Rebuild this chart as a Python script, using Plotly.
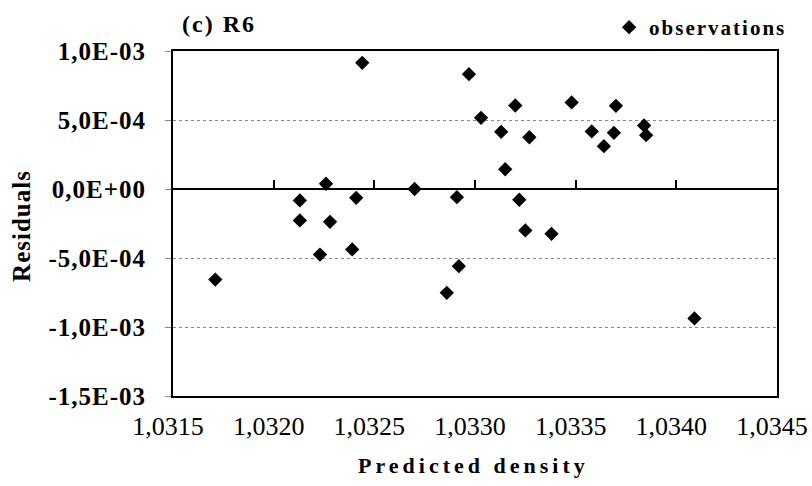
import plotly.graph_objects as go

# Residuals vs. predicted density, sample set R6
predicted_density = [
    1.03171, 1.03213, 1.03213, 1.03226, 1.03228, 1.03223, 1.03239, 1.03241,
    1.03244, 1.03270, 1.03286, 1.03291, 1.03292, 1.03297, 1.03303, 1.03313,
    1.03315, 1.03320, 1.03322, 1.03325, 1.03327, 1.03338, 1.03348, 1.03358,
    1.03364, 1.03369, 1.03370, 1.03384, 1.03385, 1.03409,
]
residuals = [
    -6.56e-4, -0.83e-4, -2.28e-4, 0.38e-4, -2.38e-4, -4.75e-4, -4.38e-4, -0.64e-4,
    9.14e-4, 0.0, -7.52e-4, -0.59e-4, -5.59e-4, 8.32e-4, 5.16e-4, 4.14e-4,
    1.43e-4, 6.05e-4, -0.78e-4, -3.00e-4, 3.75e-4, -3.25e-4, 6.27e-4, 4.17e-4,
    3.10e-4, 4.07e-4, 6.03e-4, 4.60e-4, 3.90e-4, -9.38e-4,
]

x_ticks = [1.0315, 1.0320, 1.0325, 1.0330, 1.0335, 1.0340, 1.0345]
x_tick_labels = ["1,0315", "1,0320", "1,0325", "1,0330", "1,0335", "1,0340", "1,0345"]
y_ticks = [1.0e-3, 5.0e-4, 0.0, -5.0e-4, -1.0e-3, -1.5e-3]
y_tick_labels = ["1,0E-03", "5,0E-04", "0,0E+00", "-5,0E-04", "-1,0E-03", "-1,5E-03"]

x_range = [1.0315, 1.0345]
y_range = [-1.5e-3, 1.0e-3]

SERIF = "Liberation Serif"

fig = go.Figure()
fig.add_trace(go.Scatter(
    x=predicted_density,
    y=residuals,
    mode="markers",
    name="<b><span style='letter-spacing:2px'>observations</span></b>",
    marker=dict(symbol="diamond", size=11, color="black",
                line=dict(width=0)),
))
# same points on the overlaid axis that draws the zero line (kept invisible)
fig.add_trace(go.Scatter(
    x=predicted_density,
    y=residuals,
    xaxis="x2",
    mode="markers",
    marker=dict(size=1, opacity=0),
    hoverinfo="skip",
    showlegend=False,
))

fig.update_layout(
    width=812,
    height=486,
    margin=dict(l=173, r=35, t=51, b=90, autoexpand=False),
    paper_bgcolor="white",
    plot_bgcolor="white",
    font=dict(family=SERIF, color="black"),
    showlegend=True,
    legend=dict(
        x=1.025, xanchor="right", y=1.068, yanchor="middle",
        font=dict(family=SERIF, size=21, color="black"),
        bgcolor="rgba(0,0,0,0)", borderwidth=0,
        itemwidth=30,
    ),
    xaxis=dict(
        range=x_range,
        tickmode="array", tickvals=x_ticks, ticktext=x_tick_labels,
        tickfont=dict(family=SERIF, size=26, color="black"),
        ticks="", ticklabelstandoff=6, ticklabelshift=-5,
        ticklabeloverflow="allow",
        showline=True, mirror=True, linecolor="black", linewidth=2,
        showgrid=False, zeroline=False,
    ),
    # zero line of the residual axis, carrying the upward tick marks
    xaxis2=dict(
        range=x_range, overlaying="x", anchor="free", position=0.6,
        side="bottom",
        tickmode="array", tickvals=x_ticks,
        ticks="inside", ticklen=8, tickwidth=2, tickcolor="black",
        showticklabels=False,
        showline=True, linecolor="black", linewidth=2,
        showgrid=False, zeroline=False,
    ),
    yaxis=dict(
        range=y_range,
        tickmode="array", tickvals=y_ticks, ticktext=[
            f"<b><span style='letter-spacing:1px'>{t}</span></b>" for t in y_tick_labels
        ],
        tickfont=dict(family=SERIF, size=25, color="black"),
        ticks="outside", ticklen=6, tickwidth=1, tickcolor="#888",
        ticklabelstandoff=14,
        showline=True, mirror=True, linecolor="black", linewidth=2,
        showgrid=True, gridcolor="#888", gridwidth=1, griddash="dot",
        zeroline=False,
    ),
    annotations=[
        dict(text="<b><span style='letter-spacing:2px'>(c) R6</span></b>",
             xref="paper", yref="paper", x=0.076, y=1.078,
             xanchor="center", yanchor="middle", showarrow=False,
             font=dict(family=SERIF, size=24, color="black")),
        dict(text="<b><span style='letter-spacing:1px'>Residuals</span></b>",
             xref="paper", yref="paper", x=-0.25, y=0.493, textangle=-90,
             xanchor="center", yanchor="middle", showarrow=False,
             font=dict(family=SERIF, size=25, color="black")),
        dict(text="<b><span style='letter-spacing:4px'>Predicted density</span></b>",
             xref="paper", yref="paper", x=0.498, y=-0.2,
             xanchor="center", yanchor="middle", showarrow=False,
             font=dict(family=SERIF, size=22, color="black")),
    ],
)

fig.write_html("out.html")
